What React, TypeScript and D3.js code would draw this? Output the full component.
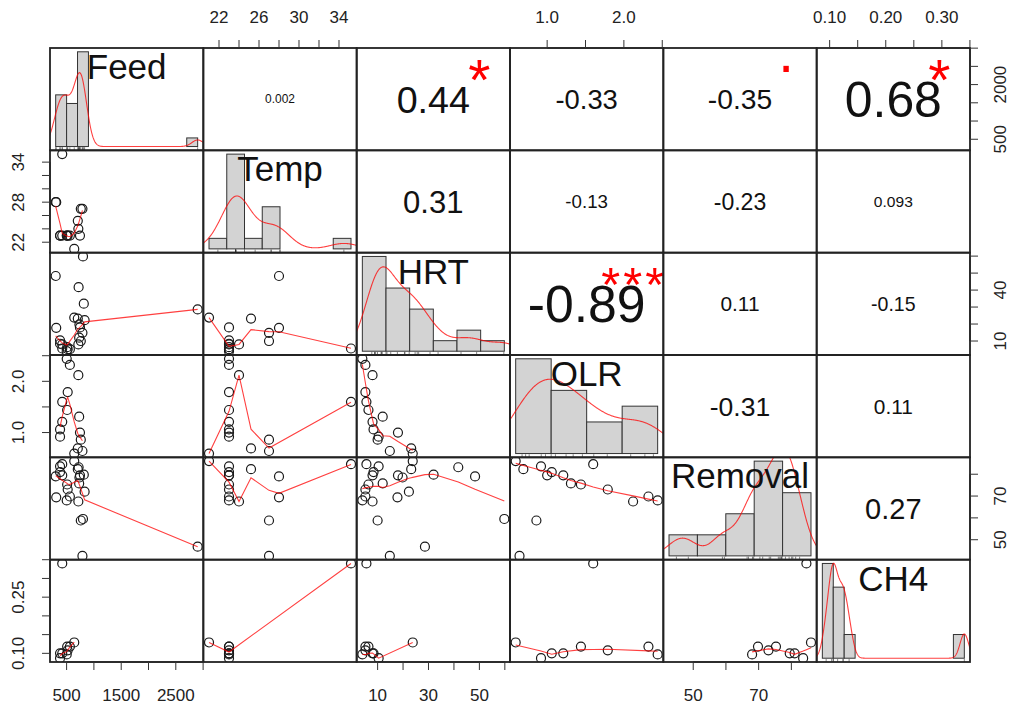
import React from "react";
import * as d3 from "d3";

// ---------------- data (23 observations, null = missing) ----------------
const varNames = ["Feed", "Temp", "HRT", "OLR", "Removal", "CH4"];

const feed = [502, 560, 715, 520, 420, 510, 730, 420, 380, 745, 380, 760, 705, 790, 640, 300, 310, 2900, 720, 800, 815, 735, 830];
const temp = [23, 23, 24, 23, 35.2, 23, null, 23, 23, 23, 23, 27, 25.2, 27, 21, 28, 28, null, null, null, null, null, null];
const hrt = [4.0, 5.2, 8.0, 5.2, 5.6, 6.4, 12.0, 8.0, 8.4, 18.0, 10.4, 10.0, 23.2, 14.8, 23.8, 48.3, 17.8, 28.6, 41.7, 59.8, 32.0, 19.8, 22.3];
const olr = [2.44, 2.32, 2.12, 1.79, 1.6, 1.44, 1.31, 1.21, 1.06, 1.0, 0.92, 0.86, 0.69, 0.64, 0.59, null, null, null, null, null, null, null, null];
const removal = [68.0, 69.8, 67.5, 73.0, 84.6, 75.3, 75.8, 79.5, 81.0, 79.5, 83.6, 58.8, 82.3, 42.6, 86.0, 79.0, 69.4, 46.8, 83.2, 59.5, 79.8, 78.5, 72.0];
const ch4 = [0.097, 0.118, null, 0.108, 0.34, 0.118, null, 0.1, 0.1, null, 0.087, null, null, null, 0.129, null, null, null, null, null, null, null, null];

// histogram breaks
const feedBreaks = [300, 500, 700, 900, 1100, 1300, 1500, 1700, 1900, 2100, 2300, 2500, 2700, 2900];
const tempBreaks = [20, 22, 24, 26, 28, 30, 32, 34, 36];
const hrtBreaks = [0, 10, 20, 30, 40, 50, 60];
const olrBreaks = [0.5, 1.0, 1.5, 2.0, 2.5];
const removalBreaks = [40, 50, 60, 70, 80, 90];
const ch4Breaks = [0.08, 0.1, 0.12, 0.14, 0.16, 0.18, 0.2, 0.22, 0.24, 0.26, 0.28, 0.3, 0.32, 0.34];

// correlations (upper panels)
const corrRow = [0, 0, 0, 0, 0, 1, 1, 1, 1, 2, 2, 2, 3, 3, 4];
const corrCol = [1, 2, 3, 4, 5, 2, 3, 4, 5, 3, 4, 5, 4, 5, 5];
const corrText = ["0.002", "0.44", "-0.33", "-0.35", "0.68", "0.31", "-0.13", "-0.23", "0.093", "-0.89", "0.11", "-0.15", "-0.31", "0.11", "0.27"];
const corrStars = ["", "*", "", ".", "*", "", "", "", "", "***", "", "", "", "", ""];

// axis ticks
const feedTicks = [500, 1000, 1500, 2000, 2500, 3000];
const tempTicks = [22, 24, 26, 28, 30, 32, 34];
const hrtTicks = [10, 20, 30, 40, 50, 60];
const olrTicks = [1.0, 1.5, 2.0, 2.5];
const removalTicks = [50, 60, 70, 80];
const ch4Ticks = [0.1, 0.15, 0.2, 0.25, 0.3, 0.35];

const topLabels: Record<number, string[]> = { 1: ["22", "26", "30", "34"], 3: ["1.0", "2.0"], 5: ["0.10", "0.20", "0.30"] };
const bottomLabels: Record<number, string[]> = { 0: ["500", "1500", "2500"], 2: ["10", "30", "50"], 4: ["50", "70"] };
const leftLabels: Record<number, string[]> = { 1: ["22", "28", "34"], 3: ["1.0", "2.0"], 5: ["0.10", "0.25"] };
const rightLabels: Record<number, string[]> = { 0: ["500", "2000"], 2: ["10", "40"], 4: ["50", "70"] };

// ---------------- layout ----------------
const LEFT = 50;
const TOP = 48;
const PW = 920 / 6;
const PH = 614 / 6;
const FONT = "'Liberation Sans', Arial, Helvetica, sans-serif";
const TICK = 8;
const AXFS = 17;

function ext(e: [number, number]): [number, number] {
  const r = e[1] - e[0];
  return [e[0] - 0.04 * r, e[1] + 0.04 * r];
}

function emWidth(s: string) {
  let w = 0;
  for (const ch of s) {
    if (ch === ".") w += 0.278;
    else if (ch === "-") w += 0.333;
    else if (ch === "*") w += 0.389;
    else w += 0.556;
  }
  return w;
}

function bwNrd0(x: number[]) {
  const n = x.length;
  const s = x.slice().sort((a, b) => a - b);
  const sd = d3.deviation(s) || 0;
  const iqr = (d3.quantileSorted(s, 0.75) as number) - (d3.quantileSorted(s, 0.25) as number);
  let lo = Math.min(sd, iqr / 1.34);
  if (!(lo > 0)) lo = sd || Math.abs(s[0]) || 1;
  return 0.9 * lo * Math.pow(n, -0.2);
}

function density(v: number[]) {
  const bw = bwNrd0(v);
  const lo = (d3.min(v) as number) - 3 * bw;
  const hi = (d3.max(v) as number) + 3 * bw;
  const pts: [number, number][] = [];
  const n = 512;
  for (let k = 0; k < n; k++) {
    const x = lo + ((hi - lo) * k) / (n - 1);
    let s = 0;
    for (const xi of v) {
      const z = (x - xi) / bw;
      s += Math.exp(-0.5 * z * z);
    }
    pts.push([x, s / (v.length * bw * Math.sqrt(2 * Math.PI))]);
  }
  return pts;
}

function histDensity(v: number[], br: number[]) {
  const diffs = br.slice(1).map((b, k) => b - br[k]);
  const fuzz = 1e-7 * (d3.median(diffs) as number);
  const counts = new Array(br.length - 1).fill(0);
  for (const x of v) {
    for (let k = 0; k < br.length - 1; k++) {
      const lo = br[k];
      const hi = br[k + 1];
      const okLo = k === 0 ? x >= lo - fuzz : x > lo + fuzz;
      if (okLo && x <= hi + fuzz) {
        counts[k]++;
        break;
      }
    }
  }
  return counts.map((c, k) => c / (v.length * diffs[k]));
}

// port of R's clowess
function lowess(xIn: number[], yIn: number[], f = 2 / 3, nsteps = 3) {
  const idx = xIn.map((_, i) => i).sort((a, b) => xIn[a] - xIn[b] || a - b);
  const xs = idx.map((i) => xIn[i]);
  const ysIn = idx.map((i) => yIn[i]);
  const n = xs.length;
  if (n < 2) return { x: xs, y: ysIn.slice() };
  const X = [0, ...xs];
  const Y = [0, ...ysIn];
  const YS = new Array(n + 1).fill(0);
  const Wk = new Array(n + 1).fill(0);
  const RW = new Array(n + 1).fill(1);
  const res = new Array(n).fill(0);
  const delta = 0.01 * (X[n] - X[1]);
  const ns = Math.max(2, Math.min(n, Math.floor(f * n + 1e-7)));

  function lowest(xv: number, nleft: number, nright: number, userw: boolean) {
    const range = X[n] - X[1];
    const h = Math.max(xv - X[nleft], X[nright] - xv);
    const h9 = 0.999 * h;
    const h1 = 0.001 * h;
    let a = 0;
    let j = nleft;
    while (j <= n) {
      Wk[j] = 0;
      const r = Math.abs(X[j] - xv);
      if (r <= h9) {
        if (r <= h1) Wk[j] = 1;
        else {
          const q = r / h;
          const c = 1 - q * q * q;
          Wk[j] = c * c * c;
        }
        if (userw) Wk[j] *= RW[j];
        a += Wk[j];
      } else if (X[j] > xv) break;
      j++;
    }
    const nrt = j - 1;
    if (a <= 0) return { ok: false, v: 0 };
    for (j = nleft; j <= nrt; j++) Wk[j] /= a;
    if (h > 0) {
      a = 0;
      for (j = nleft; j <= nrt; j++) a += Wk[j] * X[j];
      let b = xv - a;
      let c = 0;
      for (j = nleft; j <= nrt; j++) c += Wk[j] * (X[j] - a) * (X[j] - a);
      if (Math.sqrt(c) > 0.001 * range) {
        b /= c;
        for (j = nleft; j <= nrt; j++) Wk[j] *= b * (X[j] - a) + 1;
      }
    }
    let s = 0;
    for (j = nleft; j <= nrt; j++) s += Wk[j] * Y[j];
    return { ok: true, v: s };
  }

  let iter = 1;
  while (iter <= nsteps + 1) {
    let nleft = 1;
    let nright = ns;
    let last = 0;
    let i = 1;
    for (;;) {
      if (nright < n) {
        const d1 = X[i] - X[nleft];
        const d2 = X[nright + 1] - X[i];
        if (d1 > d2) {
          nleft++;
          nright++;
          continue;
        }
      }
      const r = lowest(X[i], nleft, nright, iter > 1);
      YS[i] = r.ok ? r.v : Y[i];
      if (last < i - 1) {
        const denom = X[i] - X[last];
        for (let j = last + 1; j < i; j++) {
          const alpha = (X[j] - X[last]) / denom;
          YS[j] = alpha * YS[i] + (1 - alpha) * YS[last];
        }
      }
      last = i;
      const cut = X[last] + delta;
      for (i = last + 1; i <= n; i++) {
        if (X[i] > cut) break;
        if (X[i] === X[last]) {
          YS[i] = YS[last];
          last = i;
        }
      }
      i = Math.max(last + 1, i - 1);
      if (last >= n) break;
    }
    for (let k = 0; k < n; k++) res[k] = Y[k + 1] - YS[k + 1];
    let sc = 0;
    for (let k = 0; k < n; k++) sc += Math.abs(res[k]);
    sc /= n;
    if (iter > nsteps) break;
    const ar = res.map(Math.abs).sort((a, b) => a - b);
    const m1 = Math.floor(n / 2);
    let cmad;
    if (n % 2 === 0) cmad = 3 * (ar[m1] + ar[n - m1 - 1]);
    else cmad = 6 * ar[m1];
    if (cmad < 1e-7 * sc) break;
    const c9 = 0.999 * cmad;
    const c1 = 0.001 * cmad;
    for (let k = 0; k < n; k++) {
      const r = Math.abs(res[k]);
      if (r <= c1) RW[k + 1] = 1;
      else if (r <= c9) {
        const q = r / cmad;
        RW[k + 1] = (1 - q * q) * (1 - q * q);
      } else RW[k + 1] = 0;
    }
    iter++;
  }
  return { x: xs, y: YS.slice(1) };
}

export default function App() {
  const cols: (number | null)[][] = [feed, temp, hrt, olr, removal, ch4];
  const breaks = [feedBreaks, tempBreaks, hrtBreaks, olrBreaks, removalBreaks, ch4Breaks];
  const ticks = [feedTicks, tempTicks, hrtTicks, olrTicks, removalTicks, ch4Ticks];
  const vals = cols.map((c) => c.filter((v) => v != null) as number[]);
  const xS = vals.map((v) => d3.scaleLinear().domain(ext(d3.extent(v) as [number, number])).range([0, PW]));
  const yS = vals.map((v) => d3.scaleLinear().domain(ext(d3.extent(v) as [number, number])).range([PH, 0]));

  const panels: React.ReactNode[] = [];
  const px = (j: number) => LEFT + j * PW;
  const py = (i: number) => TOP + i * PH;

  for (let i = 0; i < 6; i++) {
    for (let j = 0; j < 6; j++) {
      const key = `p${i}-${j}`;
      const content: React.ReactNode[] = [];
      if (i === j) {
        const v = vals[i];
        const br = breaks[i];
        const dens = histDensity(v, br);
        const hx = d3.scaleLinear().domain(ext([br[0], br[br.length - 1]])).range([0, PW]);
        const hy = d3.scaleLinear().domain(ext([0, d3.max(dens) as number])).range([PH, 0]);
        dens.forEach((d, k) => {
          content.push(
            <rect key={`b${k}`} x={hx(br[k])} y={hy(d)} width={hx(br[k + 1]) - hx(br[k])} height={hy(0) - hy(d)}
              fill="#d3d3d3" stroke="#333" strokeWidth={1} />
          );
        });
        const dpts = density(v);
        const line = d3.line<[number, number]>().x((d) => hx(d[0])).y((d) => hy(d[1]));
        content.push(<path key="dens" d={line(dpts) || ""} fill="none" stroke="#f00" strokeWidth={1.1} strokeOpacity={0.75} />);
        v.forEach((x, k) => {
          content.push(<line key={`r${k}`} x1={hx(x)} x2={hx(x)} y1={PH} y2={PH - 0.03 * PH} stroke="#333" strokeWidth={0.6} />);
        });
        content.push(
          <text key="lab" x={PW / 2} y={PH / 6 + 0.358 * 35 + 1.5} textAnchor="middle" fontSize={35} fontFamily={FONT} fill="#111">
            {varNames[i]}
          </text>
        );
      } else if (i > j) {
        const xv = cols[j];
        const yv = cols[i];
        const px2: number[] = [];
        const py2: number[] = [];
        xv.forEach((x, k) => {
          const y = yv[k];
          if (x != null && y != null) {
            px2.push(x);
            py2.push(y);
          }
        });
        px2.forEach((x, k) => {
          content.push(<circle key={`c${k}`} cx={xS[j](x)} cy={yS[i](py2[k])} r={4.5} fill="none" stroke="#1a1a1a" strokeWidth={1.2} />);
        });
        const lw = lowess(px2, py2);
        const pts: [number, number][] = lw.x.map((x, k) => [xS[j](x), yS[i](lw.y[k])]);
        content.push(<path key="lw" d={d3.line()(pts) || ""} fill="none" stroke="#f00" strokeWidth={1.1} strokeOpacity={0.75} />);
      } else {
        const idx = corrRow.findIndex((r, k) => r === i && corrCol[k] === j);
        if (idx >= 0) {
          const txt = corrText[idx];
          const r = Math.abs(parseFloat(txt));
          const base = (0.8 * PW * 1.05) / emWidth(txt);
          const fs = (base * (r + 0.3)) / 1.3;
          content.push(
            <text key="cor" x={PW / 2} y={PH / 2 + 0.358 * fs} textAnchor="middle" fontSize={fs} fontFamily={FONT} fill="#111">
              {txt}
            </text>
          );
          const st = corrStars[idx];
          if (st) {
            const chars = st.split("");
            const adv = 0.389 * base;
            chars.forEach((ch, k) => {
              const cx = 0.8 * PW + (k - (chars.length - 1) / 2) * adv;
              if (ch === ".") {
                content.push(
                  <text key={`sig${k}`} x={cx} y={0.2 * PH + 1 + 0.05 * base} textAnchor="middle" fontSize={base} fontFamily={FONT} fill="#ff0000">
                    {ch}
                  </text>
                );
              } else {
                const sfs = 0.86 * base;
                content.push(
                  <text key={`sig${k}`} x={cx} y={0.2 * PH + 3.5 + 0.5 * sfs} textAnchor="middle" fontSize={sfs} fontFamily={FONT} fill="#ff0000">
                    {ch}
                  </text>
                );
              }
            });
          }
        }
      }
      panels.push(
        <g key={key} transform={`translate(${px(j)},${py(i)})`}>
          <clipPath id={`clip${i}${j}`}>
            <rect x={0} y={0} width={PW} height={PH} />
          </clipPath>
          <g clipPath={`url(#clip${i}${j})`}>{content}</g>
          <rect x={0} y={0} width={PW} height={PH} fill="none" stroke="#222" strokeWidth={1.8} />
        </g>
      );
    }
  }

  // axes
  const axes: React.ReactNode[] = [];
  const inDom = (s: d3.ScaleLinear<number, number>, t: number) => {
    const d = s.domain();
    return t >= d[0] - 1e-9 && t <= d[1] + 1e-9;
  };
  for (let j = 0; j < 6; j++) {
    const s = xS[j];
    const tk = ticks[j].filter((t) => inDom(s, t));
    if (topLabels[j]) {
      const y0 = TOP;
      axes.push(<line key={`ta${j}`} x1={px(j) + s(tk[0])} x2={px(j) + s(tk[tk.length - 1])} y1={y0} y2={y0} stroke="#222" strokeWidth={1} />);
      tk.forEach((t, k) => axes.push(<line key={`tt${j}-${k}`} x1={px(j) + s(t)} x2={px(j) + s(t)} y1={y0} y2={y0 - TICK} stroke="#333" strokeWidth={1} />));
      topLabels[j].forEach((l, k) =>
        axes.push(
          <text key={`tl${j}-${k}`} x={px(j) + s(parseFloat(l))} y={y0 - 31 + 0.358 * AXFS} textAnchor="middle" fontSize={AXFS} fontFamily={FONT} fill="#222">
            {l}
          </text>
        )
      );
    }
    if (bottomLabels[j]) {
      const y0 = TOP + 6 * PH;
      axes.push(<line key={`ba${j}`} x1={px(j) + s(tk[0])} x2={px(j) + s(tk[tk.length - 1])} y1={y0} y2={y0} stroke="#222" strokeWidth={1} />);
      tk.forEach((t, k) => axes.push(<line key={`bt${j}-${k}`} x1={px(j) + s(t)} x2={px(j) + s(t)} y1={y0} y2={y0 + TICK} stroke="#333" strokeWidth={1} />));
      bottomLabels[j].forEach((l, k) =>
        axes.push(
          <text key={`bl${j}-${k}`} x={px(j) + s(parseFloat(l))} y={y0 + 33 + 0.358 * AXFS} textAnchor="middle" fontSize={AXFS} fontFamily={FONT} fill="#222">
            {l}
          </text>
        )
      );
    }
  }
  for (let i = 0; i < 6; i++) {
    const s = yS[i];
    const tk = ticks[i].filter((t) => inDom(s, t));
    if (leftLabels[i]) {
      const x0 = LEFT;
      axes.push(<line key={`la${i}`} y1={py(i) + s(tk[0])} y2={py(i) + s(tk[tk.length - 1])} x1={x0} x2={x0} stroke="#222" strokeWidth={1} />);
      tk.forEach((t, k) => axes.push(<line key={`lt${i}-${k}`} y1={py(i) + s(t)} y2={py(i) + s(t)} x1={x0} x2={x0 - TICK} stroke="#333" strokeWidth={1} />));
      leftLabels[i].forEach((l, k) => {
        const cx = x0 - 32 + 0.358 * AXFS;
        const cy = py(i) + s(parseFloat(l));
        axes.push(
          <text key={`ll${i}-${k}`} x={cx} y={cy} transform={`rotate(-90,${cx},${cy})`} textAnchor="middle" fontSize={AXFS} fontFamily={FONT} fill="#222">
            {l}
          </text>
        );
      });
    }
    if (rightLabels[i]) {
      const x0 = LEFT + 6 * PW;
      axes.push(<line key={`ra${i}`} y1={py(i) + s(tk[0])} y2={py(i) + s(tk[tk.length - 1])} x1={x0} x2={x0} stroke="#222" strokeWidth={1} />);
      tk.forEach((t, k) => axes.push(<line key={`rt${i}-${k}`} y1={py(i) + s(t)} y2={py(i) + s(t)} x1={x0} x2={x0 + TICK} stroke="#333" strokeWidth={1} />));
      rightLabels[i].forEach((l, k) => {
        const cx = x0 + 30 + 0.358 * AXFS;
        const cy = py(i) + s(parseFloat(l));
        axes.push(
          <text key={`rl${i}-${k}`} x={cx} y={cy} transform={`rotate(-90,${cx},${cy})`} textAnchor="middle" fontSize={AXFS} fontFamily={FONT} fill="#222">
            {l}
          </text>
        );
      });
    }
  }

  return (
    <svg width={1011} height={710} viewBox="0 0 1011 710" style={{ position: "absolute", left: 0, top: 0, background: "#fff" }}>
      <rect x={0} y={0} width={1011} height={710} fill="#fff" />
      {panels}
      {axes}
    </svg>
  );
}
